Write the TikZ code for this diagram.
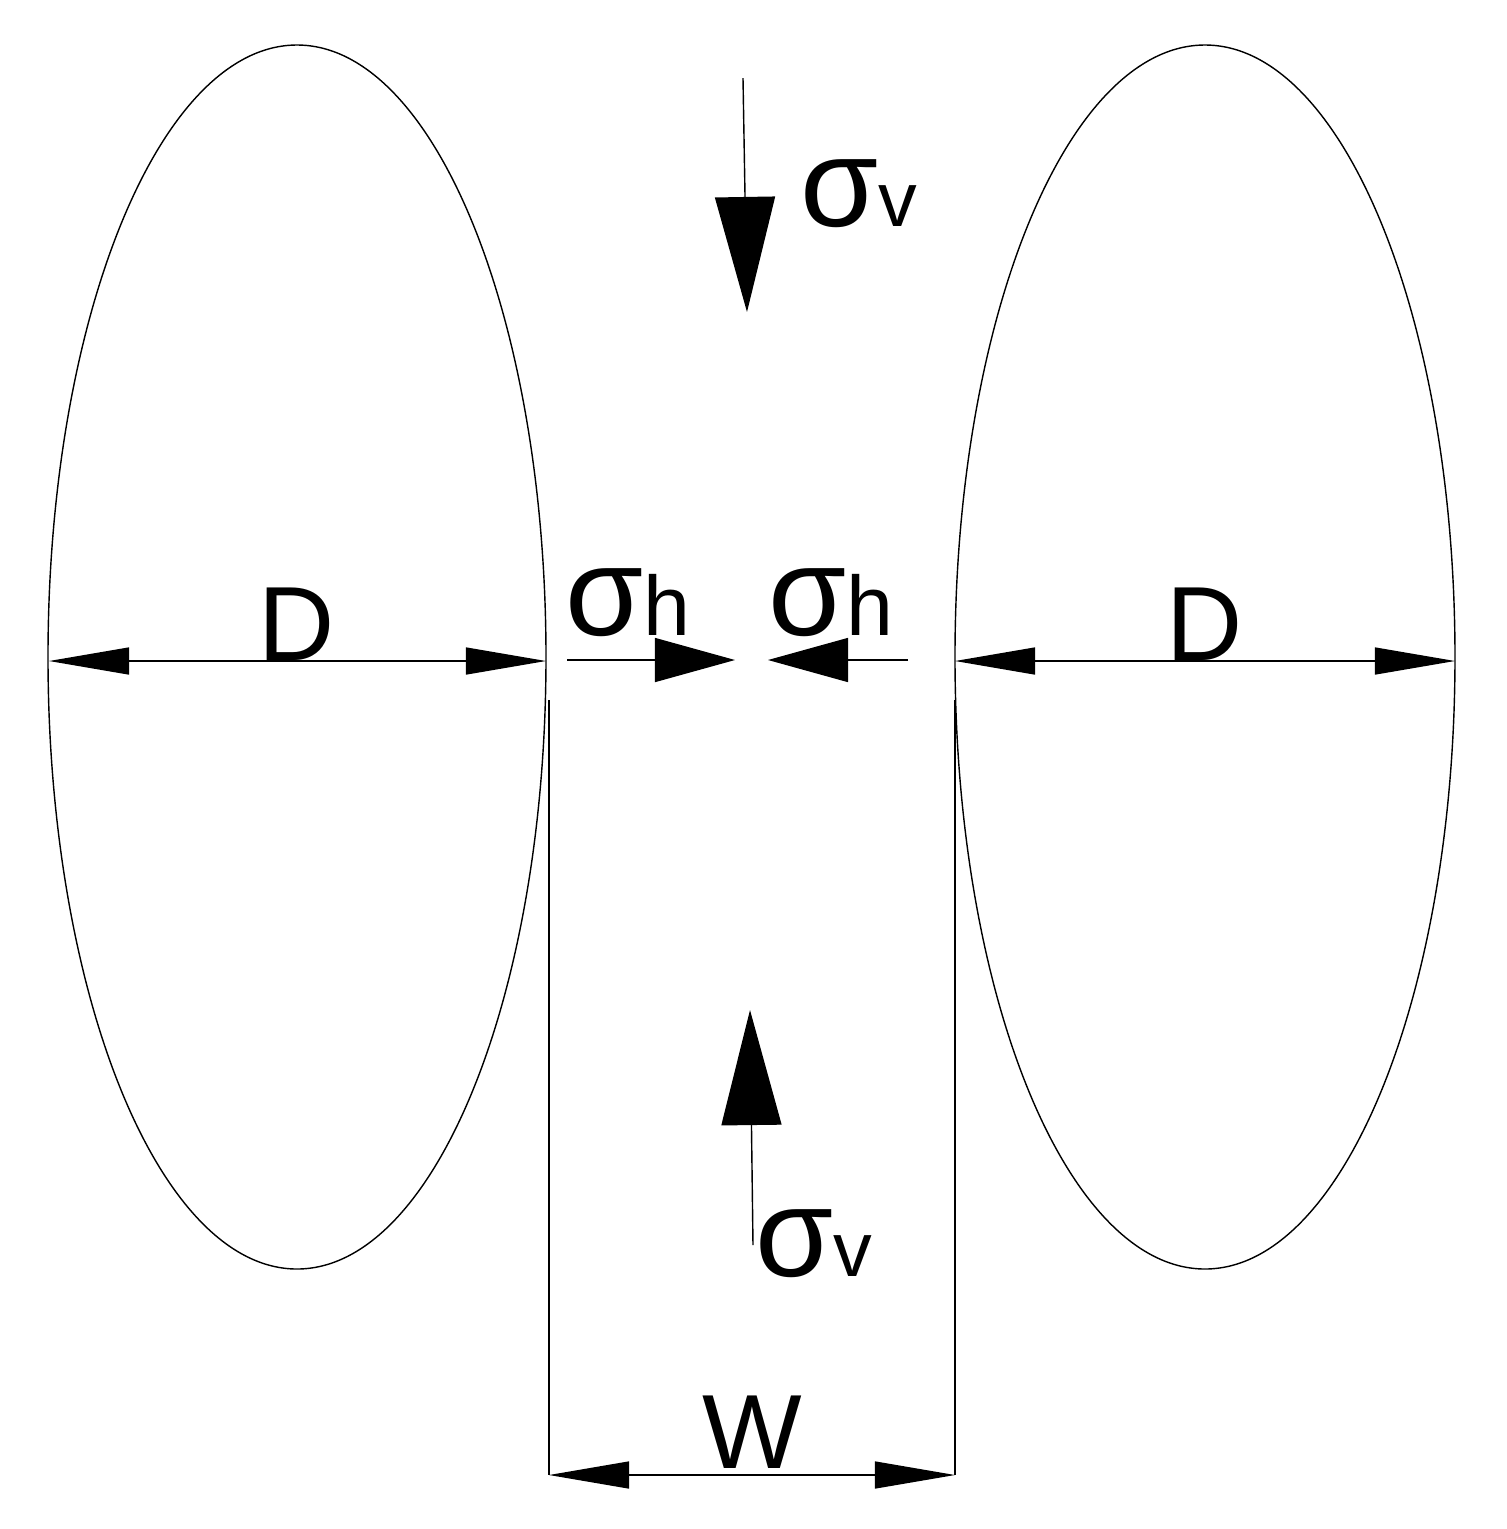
\documentclass[tikz,border=0pt]{standalone}
\usepackage{fontspec}
\setmainfont{Liberation Sans}
\usetikzlibrary{arrows.meta}
\begin{document}
\begin{tikzpicture}[x=0.01cm,y=-0.01cm,line width=0.4pt,
  dimtip/.style={-{Triangle[length=0.8cm,width=0.27cm]}},
  hsig/.style={-{Triangle[length=0.8cm,width=0.44cm]}},
  vsig/.style={-{Triangle[length=1.15cm,width=0.6cm]}},
  lbl/.style={font=\fontsize{30}{30}\selectfont,inner sep=0pt},
  sig/.style={font=\fontsize{36}{36}\selectfont,inner sep=0pt}]
\useasboundingbox (0,0) rectangle (1507,1529);
\coordinate (c1) at (297,657);
\coordinate (c2) at (1205,657);
\draw (c1) ellipse [x radius=249, y radius=612];
\draw (c2) ellipse [x radius=250, y radius=612];
\coordinate (wl) at (549,700); \coordinate (wlb) at (549,1475);
\coordinate (wr) at (955,700); \coordinate (wrb) at (955,1475);
\draw (wl) -- (wlb);
\draw (wr) -- (wrb);
\coordinate (wm) at (752,1475);
\draw[dimtip] (wm) -- (wlb);
\draw[dimtip] (wm) -- (wrb);
\node[lbl,anchor=base] (W) at (752,1468) {W};
\coordinate (d1l) at (49,661); \coordinate (d1r) at (546,661); \coordinate (d1m) at (297,661);
\draw[dimtip] (d1m) -- (d1l); \draw[dimtip] (d1m) -- (d1r);
\node[lbl,anchor=base] (D1) at (297,660) {D};
\coordinate (d2l) at (955,661); \coordinate (d2r) at (1455,661); \coordinate (d2m) at (1205,661);
\draw[dimtip] (d2m) -- (d2l); \draw[dimtip] (d2m) -- (d2r);
\node[lbl,anchor=base] (D2) at (1205,660) {D};
\coordinate (h1a) at (567,660); \coordinate (h1b) at (735,660);
\draw[hsig] (h1a) -- (h1b);
\coordinate (h2a) at (908,660); \coordinate (h2b) at (768,660);
\draw[hsig] (h2a) -- (h2b);
\node[sig,anchor=base west] (sh1) at (565,635) {σ{\fontsize{24}{24}\selectfont h}};
\node[sig,anchor=base west] (sh2) at (768,635) {σ{\fontsize{24}{24}\selectfont h}};
\coordinate (v1a) at (743,78); \coordinate (v1b) at (747,312);
\draw[vsig] (v1a) -- (v1b);
\node[sig,anchor=base west] (sv1) at (800,226) {σ{\fontsize{22}{22}\selectfont v}};
\coordinate (v2a) at (753,1245); \coordinate (v2b) at (750,1010);
\draw[vsig] (v2a) -- (v2b);
\node[sig,anchor=base west] (sv2) at (755,1276) {σ{\fontsize{22}{22}\selectfont v}};
\end{tikzpicture}
\end{document}
